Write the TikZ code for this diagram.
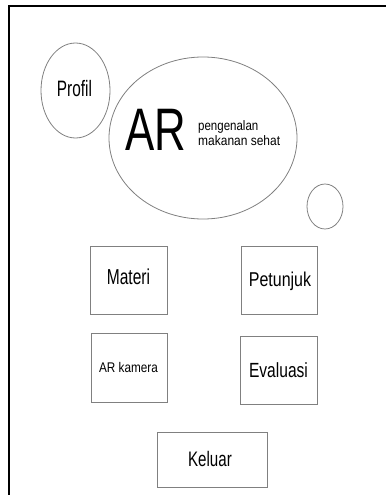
\documentclass[tikz,border=0pt]{standalone}
\usepackage{graphicx}
\usepackage{fontspec}
\setmainfont{Liberation Sans}
\usetikzlibrary{shapes.geometric}
\newcommand\sxtext[3]{\fontsize{#1}{#1}\selectfont\scalebox{#2}[1]{#3}}
\begin{document}
\begin{tikzpicture}[x=1pt,y=-1pt,
  shp/.style={draw=black!50, line width=0.8pt},
  bx/.style={shp, rectangle, inner sep=0pt},
  el/.style={shp, ellipse, inner sep=0pt},
  lbl/.style={anchor=base, inner sep=0pt, text=black}]
\useasboundingbox (0,0) rectangle (386,495);
\draw[line width=2pt] (9,495) -- (9,6) -- (386,6);

\node[el, minimum width=69pt, minimum height=95pt] (profil) at (75.5,90.5) {};
\node[el, minimum width=188pt, minimum height=162pt] (logo) at (203,138) {};
\node[el, minimum width=36pt, minimum height=45pt] (dot) at (325,206.5) {};

\node[bx, minimum width=77pt, minimum height=68pt] (materi) at (128.5,280) {};
\node[bx, minimum width=76pt, minimum height=68pt] (petunjuk) at (279,280) {};
\node[bx, minimum width=76pt, minimum height=69pt] (kamera) at (129,367.5) {};
\node[bx, minimum width=77pt, minimum height=68pt] (evaluasi) at (278.5,370) {};
\node[bx, minimum width=110pt, minimum height=55pt] (keluar) at (212,459.5) {};

\node[lbl] (tprofil) at (74.5,96.5) {\sxtext{22.3}{0.69}{Profil}};
\node[lbl] (tar) at (155.5,150) {\sxtext{60}{0.73}{AR}};
\node[lbl, anchor=base west] (tpeng) at (198,130) {\sxtext{13.7}{0.84}{pengenalan}};
\node[lbl, anchor=base west] (tmak) at (198,145) {\sxtext{13.7}{0.875}{makanan sehat}};
\node[lbl] (tmateri) at (128.5,284.5) {\sxtext{21.6}{0.72}{Materi}};
\node[lbl] (tpetunjuk) at (280,286.7) {\sxtext{20}{0.8}{Petunjuk}};
\node[lbl] (tkamera) at (128.5,372.7) {\sxtext{14}{0.84}{AR kamera}};
\node[lbl] (tevaluasi) at (278.5,377) {\sxtext{20.5}{0.76}{Evaluasi}};
\node[lbl] (tkeluar) at (210,466.7) {\sxtext{21}{0.72}{Keluar}};
\end{tikzpicture}
\end{document}
